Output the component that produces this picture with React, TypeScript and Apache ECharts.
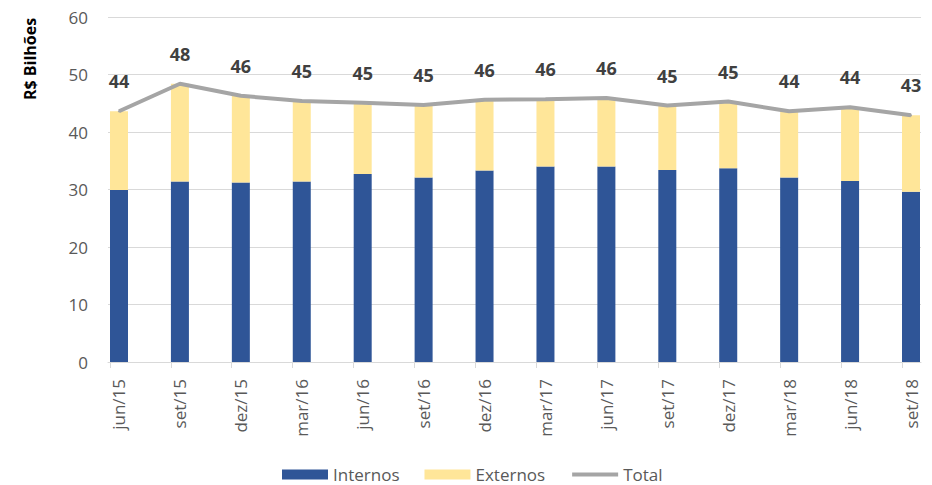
import React, { useEffect, useRef } from "react";
import * as echarts from "echarts";

const categories = ["jun/15", "set/15", "dez/15", "mar/16", "jun/16", "set/16", "dez/16", "mar/17", "jun/17", "set/17", "dez/17", "mar/18", "jun/18", "set/18"];
const internos = [29.9, 31.4, 31.2, 31.4, 32.7, 32.1, 33.3, 34.0, 34.0, 33.4, 33.7, 32.1, 31.5, 29.6];
const externos = [13.7, 17.0, 15.1, 14.0, 12.4, 12.6, 12.3, 11.7, 11.9, 11.2, 11.6, 11.5, 12.8, 13.3];
const yTicks = [0, 10, 20, 30, 40, 50, 60];

const FONT = "'Open Sans', Lato, sans-serif";

export default function App() {
  const ref = useRef<HTMLDivElement>(null);
  useEffect(() => {
    if (!ref.current) return;
    const chart = echarts.init(ref.current, undefined, { renderer: "svg" });
    const idx = categories.map((_, i) => i);
    const total = internos.map((v, i) => +(v + externos[i]).toFixed(1));
    const yMin = yTicks[0];
    const yMax = yTicks[yTicks.length - 1];
    chart.setOption({
      animation: false,
      backgroundColor: "#ffffff",
      textStyle: { fontFamily: FONT },
      grid: [
        { left: 108, right: 11, top: 17, bottom: 123, containLabel: false },
        { left: 119, right: 21, top: 17, bottom: 123, containLabel: false },
      ],
      legend: {
        left: 282,
        top: 466,
        padding: 0,
        itemWidth: 46,
        itemHeight: 10,
        itemGap: 25,
        textStyle: { fontSize: 17, lineHeight: 17, color: "#595959", fontFamily: FONT },
        data: [
          { name: "Internos", icon: "rect" },
          { name: "Externos", icon: "rect" },
          { name: "Total", itemStyle: { opacity: 0 }, lineStyle: { color: "#A5A5A5", width: 4 } },
        ],
      },
      xAxis: [
        {
          type: "value",
          gridIndex: 0,
          min: -0.18,
          max: 13.16,
          splitLine: { show: false },
          axisLine: { show: true, lineStyle: { color: "#D9D9D9", width: 1 } },
          axisTick: {
            show: true,
            length: 6,
            lineStyle: { color: "#D9D9D9" },
            customValues: idx.map((i) => i - 0.15),
          },
          axisLabel: {
            customValues: idx,
            rotate: 90,
            margin: 17,
            fontSize: 17,
            color: "#595959",
            fontFamily: FONT,
            formatter: (v: number) => categories[Math.round(v)] ?? "",
          },
        },
        {
          type: "category",
          gridIndex: 1,
          boundaryGap: false,
          data: categories,
          show: false,
        },
      ],
      yAxis: [
        {
          type: "value",
          gridIndex: 0,
          min: yMin,
          max: yMax,
          interval: 10,
          axisLine: { show: false },
          axisTick: { show: false },
          splitLine: { lineStyle: { color: "#D9D9D9", width: 1 } },
          axisLabel: { margin: 20, fontSize: 17, color: "#595959", fontFamily: FONT },
        },
        {
          type: "value",
          gridIndex: 1,
          min: yMin,
          max: yMax,
          interval: 10,
          show: false,
          splitLine: { show: false },
        },
      ],
      graphic: [
        {
          type: "text",
          x: 30,
          y: 59,
          rotation: Math.PI / 2,
          style: {
            text: "R$ Bilhões",
            fontSize: 16,
            fontWeight: "bold",
            fill: "#000000",
            fontFamily: FONT,
            align: "center",
            verticalAlign: "middle",
          },
        },
      ],
      series: [
        {
          name: "Internos",
          type: "bar",
          stack: "a",
          xAxisIndex: 1,
          yAxisIndex: 1,
          barWidth: 18,
          itemStyle: { color: "#2F5597" },
          data: internos,
        },
        {
          name: "Externos",
          type: "bar",
          stack: "a",
          xAxisIndex: 1,
          yAxisIndex: 1,
          barWidth: 18,
          itemStyle: { color: "#FFE699" },
          data: externos,
        },
        {
          name: "Total",
          type: "line",
          xAxisIndex: 1,
          yAxisIndex: 1,
          symbol: "circle",
          symbolSize: 2,
          showSymbol: true,
          lineStyle: { color: "#A5A5A5", width: 4 },
          itemStyle: { color: "#A5A5A5" },
          data: total,
          label: {
            show: true,
            position: "top",
            distance: 20,
            fontSize: 18,
            fontWeight: "bold",
            color: "#404040",
            fontFamily: FONT,
            formatter: (p: any) => String(Math.round(p.value)),
          },
        },
      ],
    });
    return () => chart.dispose();
  }, []);
  return <div ref={ref} style={{ position: "fixed", left: 0, top: 0, width: 932, height: 485 }} />;
}
